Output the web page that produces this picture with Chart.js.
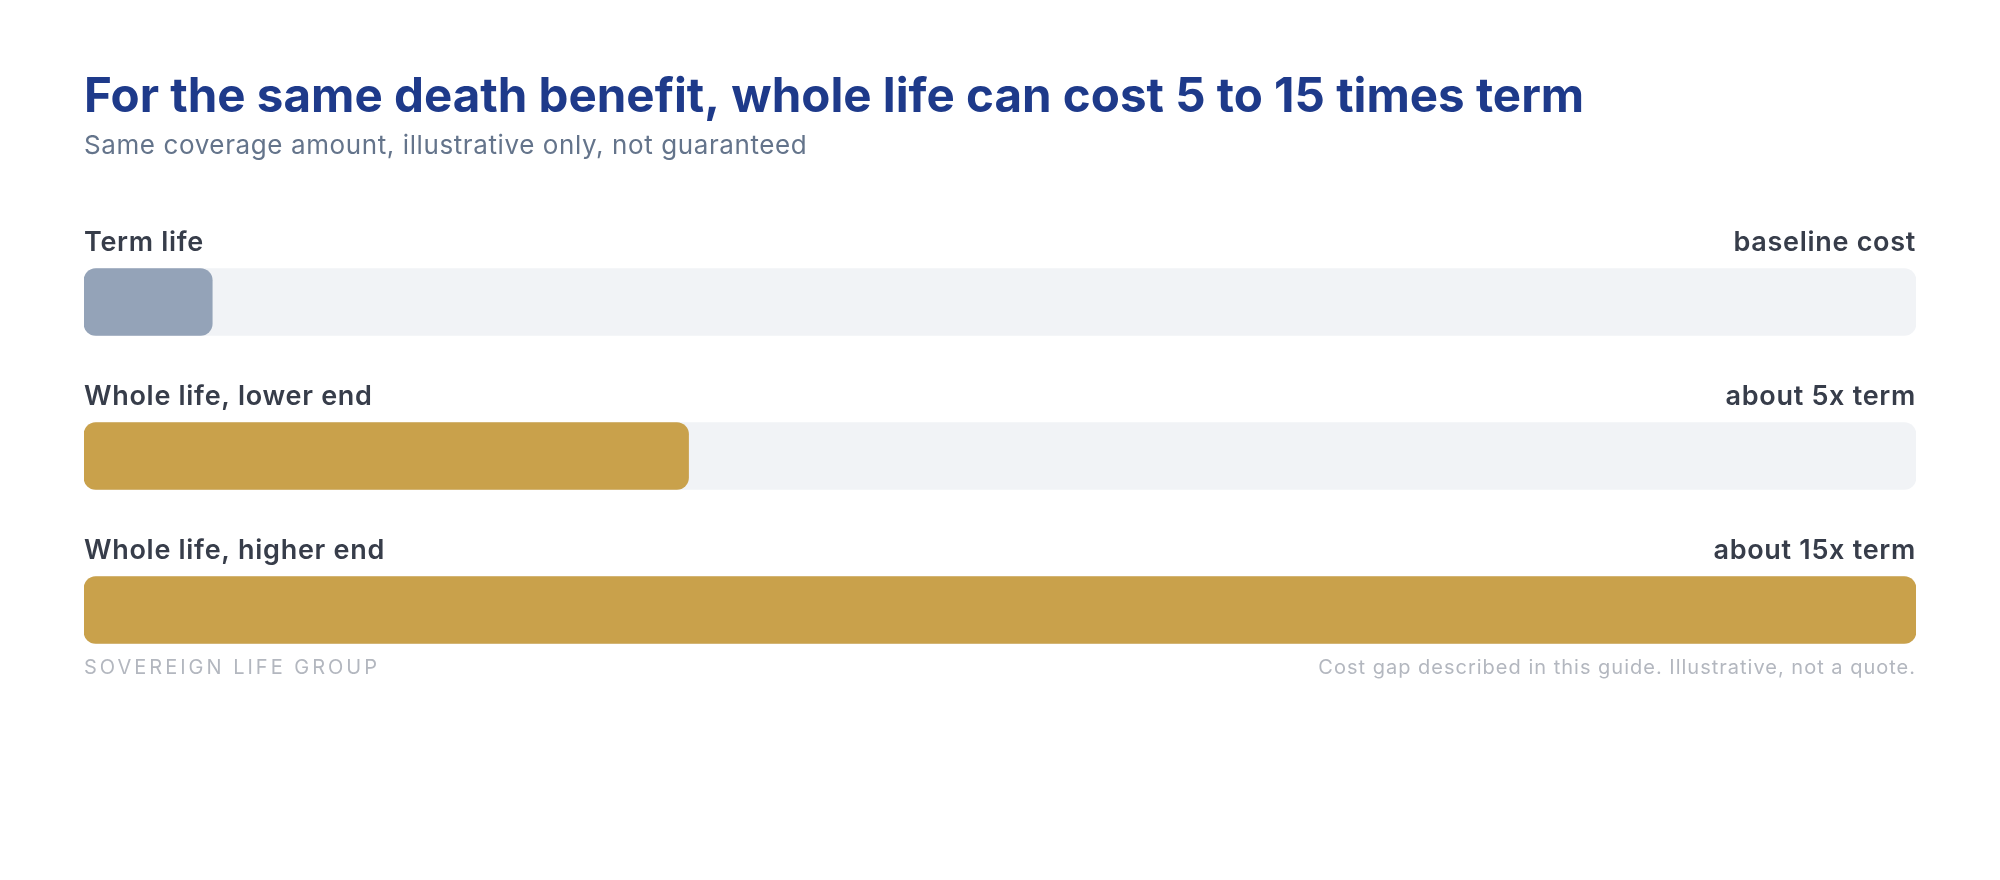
<!DOCTYPE html>
<html>
<head>
<meta charset="utf-8">
<script src="https://cdn.jsdelivr.net/npm/chart.js@4.4.1/dist/chart.umd.min.js"></script>
<style>
  html, body { margin: 0; padding: 0; background: #ffffff; }
  #wrap { width: 2000px; height: 880px; position: relative; }
</style>
</head>
<body>
<div id="wrap"><canvas id="costChart"></canvas></div>
<script>
// chart values
const categories = ['Term life', 'Whole life, lower end', 'Whole life, higher end'];
const notes = ['baseline cost', 'about 5x term', 'about 15x term'];
// bar length as share of the full track (term = small sliver, 5x, 15x)
const costIndex = [7, 33, 100];
const trackMax = [100, 100, 100];
const barColors = ['#94a3b8', '#c9a14b', '#c9a14b'];

const titleText = 'For the same death benefit, whole life can cost 5 to 15 times term';
const subtitleText = 'Same coverage amount, illustrative only, not guaranteed';
const sourceText = 'SOVEREIGN LIFE GROUP';
const footNote = 'Cost gap described in this guide. Illustrative, not a quote.';

const FONT = 'Inter, "Noto Sans", sans-serif';

// draws headings, bar labels and footer around the bars
const textLayer = {
    id: 'textLayer',
    afterDatasetsDraw(chart) {
        const ctx = chart.ctx;
        const area = chart.chartArea;
        const bars = chart.getDatasetMeta(1).data;
        ctx.save();
        ctx.textBaseline = 'alphabetic';

        // title + subtitle
        ctx.textAlign = 'left';
        ctx.fillStyle = '#1e3a8a';
        ctx.font = '700 47.5px ' + FONT;
        ctx.letterSpacing = '0px';
        ctx.fillText(titleText, area.left, 112);
        ctx.fillStyle = '#64748b';
        ctx.font = '400 26px ' + FONT;
        ctx.letterSpacing = '0.6px';
        ctx.fillText(subtitleText, area.left, 154);

        // row labels
        bars.forEach((bar, i) => {
            const top = bar.y - bar.height / 2;
            ctx.fillStyle = '#373d4a';
            ctx.font = '600 27px ' + FONT;
            ctx.letterSpacing = '0.7px';
            ctx.textAlign = 'left';
            ctx.fillText(categories[i], area.left, top - 18);
            ctx.textAlign = 'right';
            ctx.fillText(notes[i], area.right, top - 18);
        });

        // footer
        const last = bars[bars.length - 1];
        const footY = last.y + last.height / 2 + 30;
        ctx.fillStyle = '#b3b7bf';
        ctx.textAlign = 'left';
        ctx.font = '400 20px ' + FONT;
        ctx.letterSpacing = '3px';
        ctx.fillText(sourceText, area.left, footY);
        ctx.letterSpacing = '1px';
        ctx.textAlign = 'right';
        ctx.fillText(footNote, area.right, footY);
        ctx.restore();
    }
};

const ctx = document.getElementById('costChart').getContext('2d');
new Chart(ctx, {
    type: 'bar',
    data: {
        labels: categories,
        datasets: [
            {
                label: 'track',
                data: trackMax,
                backgroundColor: '#f1f3f6',
                order: 2
            },
            {
                label: 'cost',
                data: costIndex,
                backgroundColor: barColors,
                order: 1
            }
        ]
    },
    options: {
        indexAxis: 'y',
        responsive: true,
        maintainAspectRatio: false,
        animation: false,
        datasets: {
            bar: {
                grouped: false,
                barThickness: 67,
                borderRadius: 12,
                borderSkipped: false
            }
        },
        layout: {
            padding: { top: 225, bottom: 193, left: 84, right: 84 }
        },
        scales: {
            x: { min: 0, max: 100, display: false, grid: { display: false } },
            y: { display: false, grid: { display: false } }
        },
        plugins: {
            legend: { display: false },
            tooltip: { enabled: false }
        }
    },
    plugins: [textLayer]
});
</script>
</body>
</html>
